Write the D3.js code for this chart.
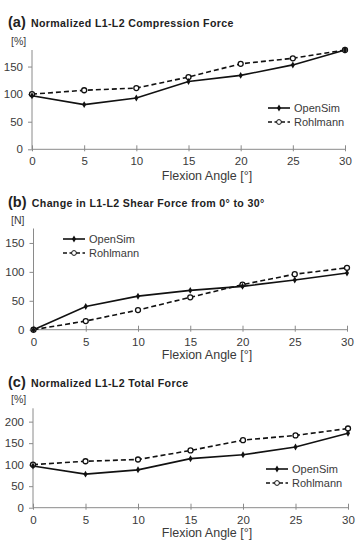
<!DOCTYPE html>
<html>
<head>
<meta charset="utf-8">
<script src="https://cdn.jsdelivr.net/npm/d3@7"></script>
<style>
  body { margin: 0; background: #fff; }
  svg { font-family: "Liberation Sans", Arial, sans-serif; }
</style>
</head>
<body>
<script>
let w = 356
let h = 543

let angles = [0, 5, 10, 15, 20, 25, 30]

// (a) compression, normalized [%]
let compOpenSim = [97, 81, 93, 123, 134, 153, 180]
let compRohlmann = [100, 107, 111, 131, 155, 165, 180]

// (b) shear change [N]
let shearOpenSim = [0, 40, 58, 68, 75, 86, 98]
let shearRohlmann = [0, 15, 34, 56, 78, 96, 107]

// (c) total, normalized [%]
let totalOpenSim = [97, 78, 88, 114, 123, 141, 173]
let totalRohlmann = [100, 108, 112, 133, 157, 168, 184]

let panels = [
  {letter: "(a)", title: "Normalized L1-L2 Compression Force", unit: "[%]",
   open: compOpenSim, rohl: compRohlmann, max: 180, ticks: [0, 50, 100, 150],
   top: 50, bottom: 149.3, x0: 32, x1: 345, titleY: 27, xlabY: 180,
   legX: 268, legY: 108},
  {letter: "(b)", title: "Change in L1-L2 Shear Force from 0\u00b0 to 30\u00b0", unit: "[N]",
   open: shearOpenSim, rohl: shearRohlmann, max: 175, ticks: [0, 50, 100, 150],
   top: 228.5, bottom: 329.7, x0: 33.5, x1: 347, titleY: 207, xlabY: 359,
   legX: 63, legY: 239},
  {letter: "(c)", title: "Normalized L1-L2 Total Force", unit: "[%]",
   open: totalOpenSim, rohl: totalRohlmann, max: 231, ticks: [0, 50, 100, 150, 200],
   top: 408.3, bottom: 507.7, x0: 33, x1: 348, titleY: 387, xlabY: 537,
   legX: 266, legY: 469}
]

let svg = d3.select("body").append("svg")
  .attr("width", w)
  .attr("height", h)

let axisColor = "#8a8a8a"
let textColor = "#3a3a3a"

panels.forEach((p)=>{
  let xScale = d3.scaleLinear().domain([0, 30]).range([p.x0, p.x1])
  let yScale = d3.scaleLinear().domain([0, p.max]).range([p.bottom, p.top])

  // title
  let t = svg.append("text")
    .attr("x", 8)
    .attr("y", p.titleY)
    .attr("fill", "#222")
  t.append("tspan").text(p.letter)
    .attr("font-size", 14.5)
    .attr("font-weight", "bold")
  t.append("tspan").text(" " + p.title)
    .attr("font-size", 10.6)
    .attr("font-weight", "bold")
    .attr("letter-spacing", 0.35)
    .attr("dx", 2)

  svg.append("text")
    .attr("x", 11)
    .attr("y", p.top - 5)
    .attr("font-size", 10.5)
    .attr("fill", textColor)
    .text(p.unit)

  // y axis
  let yAxis = svg.append("g")
    .attr("transform", "translate(" + p.x0 + ",0)")
    .call(d3.axisLeft(yScale).tickValues(p.ticks).tickSize(4).tickPadding(5))
  yAxis.select(".domain").remove()
  yAxis.append("line")
    .attr("x1", 0).attr("x2", 0)
    .attr("y1", p.top).attr("y2", p.bottom)
  yAxis.selectAll("line").attr("stroke", axisColor)
  yAxis.selectAll("text")
    .attr("font-size", 11.5)
    .attr("fill", textColor)
    .attr("font-family", "Liberation Sans, Arial, sans-serif")

  // x axis
  let xAxis = svg.append("g")
    .attr("transform", "translate(0," + p.bottom + ")")
    .call(d3.axisBottom(xScale).tickValues(angles).tickSize(4).tickPadding(4))
  xAxis.select(".domain").remove()
  xAxis.append("line")
    .attr("x1", p.x0).attr("x2", p.x1)
    .attr("y1", 0).attr("y2", 0)
  xAxis.selectAll(".tick line").attr("y1", -4).attr("y2", 2)
  xAxis.selectAll("line").attr("stroke", axisColor)
  xAxis.selectAll("text")
    .attr("font-size", 11.5)
    .attr("fill", textColor)
    .attr("font-family", "Liberation Sans, Arial, sans-serif")

  svg.append("text")
    .attr("x", 207)
    .attr("y", p.xlabY)
    .attr("text-anchor", "middle")
    .attr("font-size", 12.5)
    .attr("fill", textColor)
    .text("Flexion Angle [\u00b0]")

  let line = d3.line()
    .x((d, i)=>xScale(angles[i]))
    .y((d)=>yScale(d))

  svg.append("path")
    .datum(p.rohl)
    .attr("d", line)
    .attr("fill", "none")
    .attr("stroke", "#111")
    .attr("stroke-width", 1.6)
    .attr("stroke-dasharray", "5,3")

  svg.append("path")
    .datum(p.open)
    .attr("d", line)
    .attr("fill", "none")
    .attr("stroke", "#111")
    .attr("stroke-width", 1.6)

  svg.append("g").selectAll("circle")
    .data(p.rohl)
    .enter()
    .append("circle")
    .attr("cx", (d, i)=>xScale(angles[i]))
    .attr("cy", (d)=>yScale(d))
    .attr("r", 2.5)
    .attr("fill", "#fff")
    .attr("stroke", "#111")
    .attr("stroke-width", 1.3)

  svg.append("g").selectAll("path")
    .data(p.open)
    .enter()
    .append("path")
    .attr("d", d3.symbol().type(d3.symbolDiamond).size(14))
    .attr("transform", (d, i)=>"translate(" + xScale(angles[i]) + "," + yScale(d) + ")")
    .attr("fill", "#111")

  // legend
  let leg = svg.append("g")
    .attr("transform", "translate(" + p.legX + "," + p.legY + ")")
  leg.append("line")
    .attr("x1", 0).attr("x2", 22)
    .attr("y1", 0).attr("y2", 0)
    .attr("stroke", "#111")
    .attr("stroke-width", 1.6)
  leg.append("path")
    .attr("d", d3.symbol().type(d3.symbolDiamond).size(14))
    .attr("transform", "translate(11,0)")
    .attr("fill", "#111")
  leg.append("text")
    .attr("x", 26)
    .attr("y", 4)
    .attr("font-size", 11)
    .attr("fill", textColor)
    .text("OpenSim")

  leg.append("line")
    .attr("x1", 0).attr("x2", 22)
    .attr("y1", 14).attr("y2", 14)
    .attr("stroke", "#111")
    .attr("stroke-width", 1.6)
    .attr("stroke-dasharray", "4,2.5")
  leg.append("circle")
    .attr("cx", 11).attr("cy", 14)
    .attr("r", 2.4)
    .attr("fill", "#fff")
    .attr("stroke", "#111")
    .attr("stroke-width", 1)
  leg.append("text")
    .attr("x", 26)
    .attr("y", 18)
    .attr("font-size", 11)
    .attr("fill", textColor)
    .text("Rohlmann")
})
</script>
</body>
</html>
